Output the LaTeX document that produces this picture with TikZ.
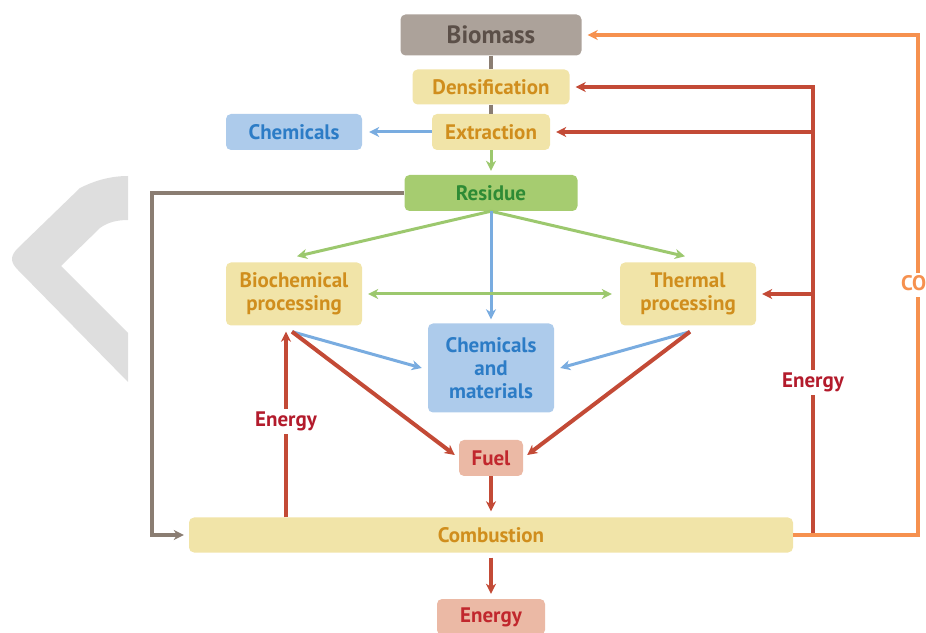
\documentclass[tikz,border=0pt]{standalone}
\usepackage{fontspec}
\setmainfont{PT Sans}
\usetikzlibrary{calc,arrows.meta}

\definecolor{bmFill}{HTML}{ACA29A}
\definecolor{bmText}{HTML}{5B4F48}
\definecolor{bmLine}{HTML}{8A7D72}
\definecolor{ylFill}{HTML}{F1E4A8}
\definecolor{ylText}{HTML}{D08E1D}
\definecolor{blFill}{HTML}{ADCBEB}
\definecolor{blText}{HTML}{2C7CC6}
\definecolor{blLine}{HTML}{79ACE0}
\definecolor{grFill}{HTML}{A6CC70}
\definecolor{grText}{HTML}{2E8B35}
\definecolor{grLine}{HTML}{9CC86E}
\definecolor{saFill}{HTML}{EBB9A5}
\definecolor{saText}{HTML}{C1272D}
\definecolor{rdLine}{HTML}{C34A36}
\definecolor{rdText}{HTML}{B31B2C}
\definecolor{orLine}{HTML}{F6914F}
\definecolor{chevron}{HTML}{DEDEDE}

\tikzset{
  x=1pt, y=1pt,
  head/.tip={Stealth[length=10pt,width=10pt,inset=3pt]},
  box/.style={rounded corners=5pt, inner sep=0pt, align=center,
    font=\fontsize{21}{23}\selectfont\bfseries},
  yellowbox/.style={box, fill=ylFill, text=ylText},
  bluebox/.style={box, fill=blFill, text=blText},
  greenbox/.style={box, fill=grFill, text=grText},
  salmonbox/.style={box, fill=saFill, text=saText},
  graybox/.style={box, fill=bmFill, text=bmText,
    font=\fontsize{25}{28}\selectfont\bfseries},
  headend/.style={-head},
  grayline/.style={draw=bmLine, line width=4pt},
  grayarrow/.style={grayline, headend},
  greenline/.style={draw=grLine, line width=3pt},
  greenarrow/.style={greenline, headend},
  bluearrow/.style={draw=blLine, line width=3pt, headend},
  redline/.style={draw=rdLine, line width=4pt},
  redarrow/.style={redline, headend},
  orangeline/.style={draw=orLine, line width=4pt},
  flowlabel/.style={fill=white, inner sep=3pt, text=rdText,
    font=\fontsize{21}{23}\selectfont\bfseries},
}

\begin{document}
\begin{tikzpicture}
\useasboundingbox (0,0) rectangle (926,632);

% decorative chevron on the left margin
\fill[chevron] (128,456) .. controls (108,456) and (92,450) .. (80,444)
  -- (18,384) .. controls (10,376) and (10,370) .. (18,362)
  -- (128,250) -- (128,299) -- (61,366) -- (100,404)
  .. controls (108,410) and (118,412) .. (128,412) -- cycle;

% boxes
\node[graybox, minimum width=181pt, minimum height=41pt] (biomass) at (491,597) {Biomass};
\node[yellowbox, minimum width=157pt, minimum height=35pt] (dens) at (491,545) {Densification};
\node[yellowbox, minimum width=118pt, minimum height=36pt] (extr) at (491,500) {Extraction};
\node[bluebox, minimum width=136pt, minimum height=36pt] (chem) at (294,500) {Chemicals};
\node[greenbox, minimum width=173pt, minimum height=36pt] (resid) at (491,439) {Residue};
\node[yellowbox, minimum width=136pt, minimum height=63pt] (bio) at (294,338) {Biochemical\\processing};
\node[yellowbox, minimum width=136pt, minimum height=63pt] (therm) at (688,338) {Thermal\\processing};
\node[bluebox, minimum width=126pt, minimum height=89pt] (chemmat) at (491,264) {Chemicals\\and\\materials};
\node[salmonbox, minimum width=64pt, minimum height=36pt] (fuel) at (491,174) {Fuel};
\node[yellowbox, minimum width=604pt, minimum height=35pt] (comb) at (491,97) {Combustion};
\node[salmonbox, minimum width=108pt, minimum height=36pt] (energy) at (491,15) {Energy};

% main chain
\draw[grayline] (biomass) -- (dens);
\draw[grayline] (dens) -- (extr);
\draw[greenarrow, shorten >=4pt] (extr) -- (resid);
\draw[bluearrow, shorten >=7pt] (extr.west) -- (chem.east);

% residue split
\draw[greenarrow] (resid.south) -- ($(bio.north)+(3,6)$);
\draw[greenarrow] (resid.south) -- ($(therm.north)+(-3,6)$);
\draw[bluearrow, shorten >=4pt] (resid.south) -- (chemmat.north);
\draw[greenline, head-head, shorten <=6pt, shorten >=8pt] (bio.east) -- (therm.west);

% processing outputs
\coordinate (bioOut) at ($(bio.south)+(-2,-6)$);
\coordinate (thermOut) at ($(therm.south)+(2,-6)$);
\draw[bluearrow] (bioOut) -- ($(chemmat.west)+(-6,0)$);
\draw[bluearrow] (thermOut) -- ($(chemmat.east)+(6,0)$);
\draw[redarrow] (bioOut) -- ($(fuel.west)+(-4,3)$);
\draw[redarrow] (thermOut) -- ($(fuel.east)+(4,3)$);

% combustion
\draw[redarrow, shorten >=6pt] (fuel.south) -- (comb.north);
\draw[redarrow, shorten <=5pt, shorten >=5pt] (comb.south) -- (energy.north);
\draw[redarrow, shorten >=6pt] ([xshift=-8pt]bio.south |- comb.north)
  -- node[flowlabel] {Energy} ([xshift=-8pt]bio.south);

% residue bypass to combustion
\coordinate (gx) at (152,0);
\draw[grayarrow, shorten >=5pt] (resid.west) -- (resid.west -| gx) -- (comb.west -| gx) -- (comb.west);

% energy feedback on the right
\coordinate (rbot) at (813,97);
\coordinate (rtop) at (813,545);
\draw[redarrow, shorten >=6pt] (rbot) -- node[flowlabel, pos=0.34] {Energy} (rtop) -- (dens.east);
\draw[redarrow, shorten >=6pt] (extr.east -| rtop) -- (extr.east);
\draw[redarrow, shorten >=6pt] (therm.east -| rtop) -- (therm.east);

% carbon dioxide return
\coordinate (ox) at (918,0);
\draw[orangeline, headend, shorten >=6pt] (comb.east) -- (comb.east -| ox)
  -- node[pos=0.5, fill=white, inner sep=3pt, text=orLine,
          font=\fontsize{21}{23}\selectfont\bfseries] {CO\textsubscript{2}}
  (biomass.east -| ox) -- (biomass.east);
\end{tikzpicture}
\end{document}
